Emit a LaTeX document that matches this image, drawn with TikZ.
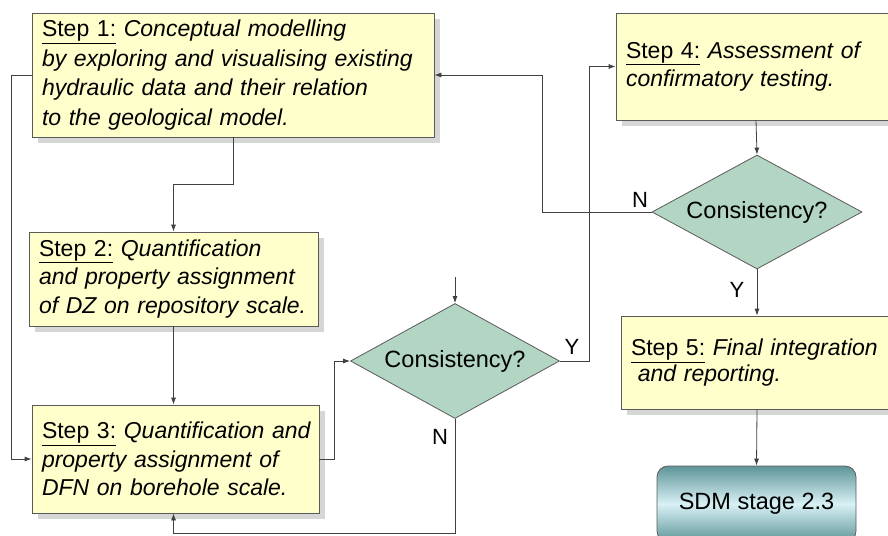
\documentclass[tikz,border=0pt]{standalone}
\usepackage{fontspec}
\setmainfont{Liberation Sans}
\usetikzlibrary{shapes.geometric, arrows.meta, positioning, calc, shadows}
\definecolor{stepyellow}{HTML}{FFFFCC}
\definecolor{checkgreen}{HTML}{B2D5C4}
\definecolor{edgegray}{HTML}{5A5A5A}
\definecolor{linegray}{HTML}{404040}
\definecolor{shadowgray}{HTML}{D6D6D6}
\definecolor{sdmdark}{HTML}{5F9598}
\definecolor{sdmlight}{HTML}{D8F1F5}

\newcommand{\steplabel}[1]{\underline{Step #1:}}

\begin{document}
\begin{tikzpicture}[x=1pt, y=-1pt,
    flow/.style={draw=linegray, line width=0.8pt, -{Latex[length=7pt, width=5pt]}},
    stepbox/.style={rectangle, draw=edgegray, line width=0.8pt, fill=stepyellow,
      drop shadow={shadow xshift=6pt, shadow yshift=-6pt, fill=shadowgray, opacity=1},
      align=left, inner xsep=10pt, inner ysep=0pt,
      font=\fontsize{23}{28.5}\selectfont},
    decision/.style={diamond, aspect=1.82, draw=edgegray, line width=0.8pt, fill=checkgreen,
      inner sep=0pt, font=\fontsize{23.5}{28}\selectfont},
    terminal/.style={rectangle, rounded corners=11pt, draw=edgegray, line width=0.8pt,
      top color=sdmdark, bottom color=sdmdark, middle color=sdmlight,
      font=\fontsize{23.5}{28}\selectfont},
    yn/.style={font=\fontsize{22}{26}\selectfont, inner sep=0pt}]

    \useasboundingbox (0,0) rectangle (888,535);
    \clip (0,0) rectangle (888,535);

    % Steps
    \node[stepbox, minimum width=402, minimum height=124, text width=382,
      font=\fontsize{23}{29.5}\selectfont] (step1) at (233,75)
      {\steplabel{1} \textit{Conceptual modelling}\\
       \textit{by exploring and visualising existing}\\
       \textit{hydraulic data and their relation}\\
       \textit{to the geological model.}};
    \node[stepbox, minimum width=289, minimum height=94, text width=269] (step2) at (173.5,279)
      {\steplabel{2} \textit{Quantification}\\
       \textit{and property assignment}\\
       \textit{of DZ on repository scale.}};
    \node[stepbox, minimum width=287, minimum height=108, text width=267] (step3) at (175.5,459)
      {\mbox{\steplabel{3} \textit{Quantification and}}\\
       \textit{property assignment of}\\
       \textit{DFN on borehole scale.}};
    \node[stepbox, minimum width=280, minimum height=107, text width=260] (step4) at (756,66.5)
      {\steplabel{4} \textit{Assessment of}\\
       \textit{confirmatory testing.}};
    \node[stepbox, minimum width=272, minimum height=93, text width=252,
      font=\fontsize{23}{25.5}\selectfont] (step5) at (757,362.5)
      {\steplabel{5} \textit{Final integration}\\
       \hspace{0.3em}\textit{and reporting.}};

    % Checks
    \node[decision, minimum width=209, minimum height=115] (check1) at (455,361) {Consistency?};
    \node[decision, minimum width=210, minimum height=114] (check2) at (757,212) {Consistency?};

    % Outcome
    \node[terminal, minimum width=199, minimum height=76] (sdm) at (756.5,504) {SDM stage 2.3};

    \coordinate (entry) at (455,277);
    \coordinate (loopback) at ($(check1.south |- step3.south)+(0,20)$);

    % Connectors
    \draw[flow] (step1.west) -- ++(-20,0) |- (step3.west);
    \draw[flow] (step1.south) -- ++(0,47) -| (step2.north);
    \draw[flow] (step2.south) -- (step2.south |- step3.north);
    \draw[flow] (step3.east) -- ++(15,0) |- (check1.west);
    \draw[flow] (entry) -- (check1.north);
    \draw[flow] (check1.east) -- ++(29,0) |- (step4.west);
    \draw[flow] (check1.south) -- (loopback) -| (step3.south -| step2.south);
    \draw[flow] (step4.south) -- (check2.north);
    \draw[flow] (check2.west) -- ++(-109,0) |- (step1.east);
    \draw[flow] (check2.south) -- (step5.north);
    \draw[flow] (step5.south) -- (sdm.north);

    % Answers
    \node[yn] (yes1) at (572,347) {Y};
    \node[yn] (no1) at (440,437) {N};
    \node[yn] (no2) at (640,200) {N};
    \node[yn] (yes2) at (737,290) {Y};
\end{tikzpicture}
\end{document}
